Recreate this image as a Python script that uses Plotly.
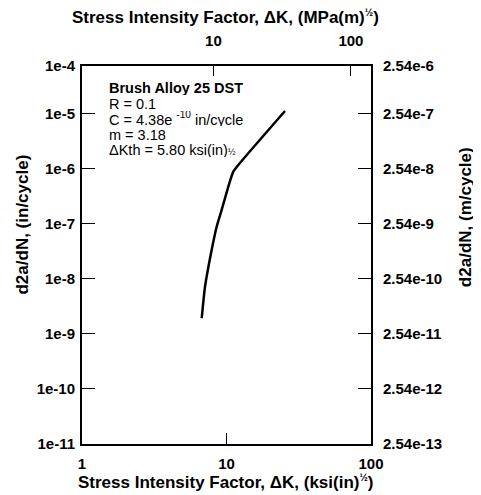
import math

import plotly.graph_objects as go

# crack growth curve (Delta K in ksi*in^0.5, rate in in/cycle)
dk_ksi = [6.74, 7.10, 7.90, 8.55, 9.26, 10.47, 11.15, 12.07, 25.4]
rate_in = [1.93e-9, 7.2e-9, 3.4e-8, 8.9e-8, 1.8e-7, 5.5e-7, 8.9e-7, 1.18e-6, 1.13e-5]

# left axis decades and matching metric labels on the right (1 in = 0.0254 m)
left_vals = [1e-11, 1e-10, 1e-9, 1e-8, 1e-7, 1e-6, 1e-5]
left_text = ["1e-11", "1e-10", "1e-9", "1e-8", "1e-7", "1e-6", "1e-5"]
right_text = ["2.54e-13", "2.54e-12", "2.54e-11", "2.54e-10",
              "2.54e-9", "2.54e-8", "2.54e-7"]
top_label_left = "1e-4"
top_label_right = "2.54e-6"

bottom_ticks = [1, 10, 100]
top_ticks = [10, 100]

info_lines = [
    "<b>Brush Alloy 25 DST</b>",
    "R = 0.1",
    "C = 4.38e <sup>-10</sup> in/cycle",
    "m = 3.18",
    "ΔKth = 5.80 ksi(in)<span style='font-size:9px'>½</span>",
]

FONT = "Liberation Sans, Arial, sans-serif"
IN2M = math.log10(0.0254)
Y_LO, Y_HI = -11.0, -4.13
HALF = "<sup><span style='font-size:10px'>½</span></sup>"

fig = go.Figure()
fig.add_trace(go.Scatter(x=dk_ksi, y=rate_in, mode="lines",
                         line=dict(color="black", width=2.5, shape="spline",
                                   smoothing=0.6),
                         hoverinfo="x+y"))
# empty traces so the top and right axes get drawn
fig.add_trace(go.Scatter(x=[], y=[], xaxis="x2", yaxis="y", showlegend=False))
fig.add_trace(go.Scatter(x=[], y=[], xaxis="x", yaxis="y2", showlegend=False))

tickfont = dict(family=FONT, size=15, color="black", weight="bold")
axis_common = dict(showgrid=False, zeroline=False, showline=True,
                   linecolor="black", linewidth=2, ticks="inside",
                   tickcolor="black", tickwidth=1, tickfont=tickfont,
                   automargin=False)

top_val_l = 10 ** (Y_HI - 0.001)
top_val_r = 10 ** (Y_HI - 0.001 + IN2M)

# the page body adds 8px on the left and top, margins account for it
fig.update_layout(
    width=481, height=495,
    margin=dict(l=74, r=118, t=58, b=59, autoexpand=False),
    plot_bgcolor="white", paper_bgcolor="white",
    showlegend=False,
    font=dict(family=FONT, color="black"),
    xaxis=dict(type="log", range=[0, 2], tickvals=bottom_ticks,
               ticktext=[str(v) for v in bottom_ticks], ticklen=11,
               ticklabelstandoff=5, **axis_common),
    xaxis2=dict(type="log", range=[0.044, 2.146], overlaying="x",
                side="top", anchor="y", tickvals=top_ticks,
                ticktext=[str(v) for v in top_ticks], ticklen=10,
                ticklabelstandoff=12, **axis_common),
    yaxis=dict(type="log", range=[Y_LO, Y_HI],
               tickvals=left_vals + [top_val_l],
               ticktext=left_text + [top_label_left], ticklen=13,
               ticklabelstandoff=2, **axis_common),
    yaxis2=dict(type="log", range=[Y_LO + IN2M, Y_HI + IN2M],
                overlaying="y", side="right", anchor="x",
                tickvals=[v * 0.0254 for v in left_vals] + [top_val_r],
                ticktext=right_text + [top_label_right], ticklen=13,
                ticklabelstandoff=7, **axis_common),
)

titlefont = dict(family=FONT, size=17, color="black", weight="bold")
centered = dict(xref="paper", yref="paper", showarrow=False,
                xanchor="center", yanchor="middle", font=titlefont)
fig.add_annotation(text="Stress Intensity Factor, ΔK, (MPa(m)" + HALF + ")",
                   x=0.495, y=1.13, **centered)
fig.add_annotation(text="Stress Intensity Factor, ΔK, (ksi(in)" + HALF + ")",
                   x=0.495, y=-0.10, **centered)
fig.add_annotation(text="d2a/dN, (in/cycle)", textangle=-90,
                   x=-0.205, y=0.58, **centered)
fig.add_annotation(text="d2a/dN, (m/cycle)", textangle=-90,
                   x=1.325, y=0.60, **centered)

# info block, one annotation per line to keep the tight spacing
line_y = [0.942, 0.902, 0.861, 0.820, 0.780]
for txt, yy in zip(info_lines, line_y):
    fig.add_annotation(text=txt, xref="paper", yref="paper", x=0.087, y=yy,
                       xanchor="left", yanchor="middle", showarrow=False,
                       height=15, valign="middle",
                       font=dict(family=FONT, size=14.5, color="black"))

fig.write_html("out.html")
